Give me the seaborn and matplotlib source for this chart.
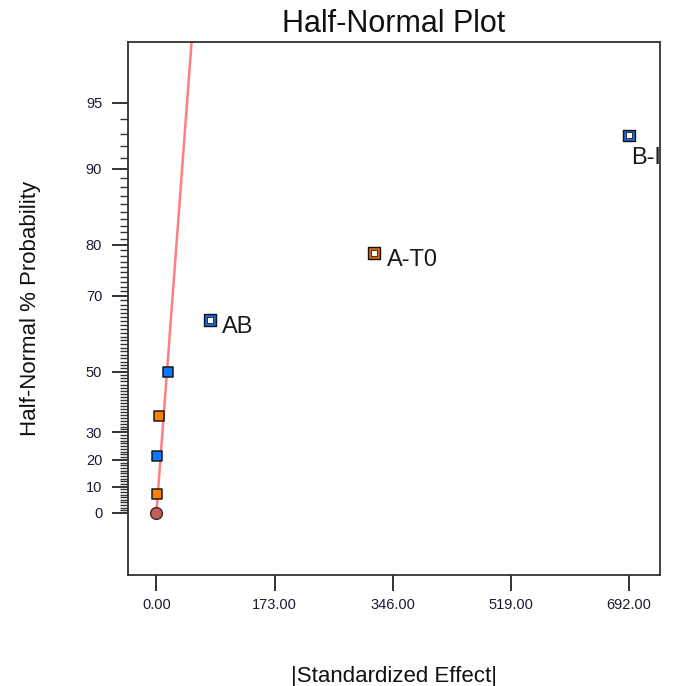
from statistics import NormalDist
import numpy as np
import pandas as pd
import matplotlib
matplotlib.use("Agg")
import matplotlib.pyplot as plt
import seaborn as sns

# -----------------------------
# Data
# -----------------------------
# small effects lying on the fitted line
small_effects = [0.0, 0.5, 1.0, 4.0, 16.5]
small_probs = [0.0, 7.14, 21.43, 35.71, 50.0]
small_kinds = ["Error", "Positive", "Negative", "Positive", "Negative"]

# labelled (significant) effects
term_names = ["AB", "A-T0", "B-I"]
term_effects = [78.4, 319.0, 692.0]
term_probs = [64.29, 78.57, 92.86]
term_kinds = ["Negative", "Positive", "Negative"]

# fitted line through the small effects: effect = fit_slope * z
fit_slope = 22.9

x_ticks = [0.0, 173.0, 346.0, 519.0, 692.0]
y_major = [0, 10, 20, 30, 50, 70, 80, 90, 95]
y_minor = [p for p in range(1, 95) if p not in y_major]

nd = NormalDist()


def half_normal_z(p):
    # percent -> half-normal quantile
    return nd.inv_cdf(0.5 + p / 200.0)


face = {"Error": "#c0605c", "Positive": "#ff7f00", "Negative": "#0a78ff"}
ring = {"Positive": "#e06a00", "Negative": "#1a6ad8"}

small_df = pd.DataFrame({
    "effect": small_effects,
    "z": [half_normal_z(p) for p in small_probs],
    "kind": small_kinds,
})
term_df = pd.DataFrame({
    "term": term_names,
    "effect": term_effects,
    "z": [half_normal_z(p) for p in term_probs],
    "kind": term_kinds,
})

# -----------------------------
# Plot
# -----------------------------
sns.set_style("white")
plt.rcParams["font.family"] = ["Liberation Sans", "DejaVu Sans"]

fig = plt.figure(figsize=(6.73, 6.86), dpi=100)
ax = fig.add_axes([0.190, 0.162, 0.791, 0.777])

z_line = np.array([0.0, 3.0])
ax.plot(fit_slope * z_line, z_line, color="#ff8080", lw=1.8, zorder=2)

sns.scatterplot(data=small_df[small_df["kind"] != "Error"], x="effect", y="z",
                hue="kind", palette=face, marker="s", s=52,
                edgecolor="#1a1a1a", linewidth=1.1, legend=False, ax=ax, zorder=4)
sns.scatterplot(data=small_df[small_df["kind"] == "Error"], x="effect", y="z",
                color=face["Error"], marker="o", s=72,
                edgecolor="#4a2020", linewidth=1.0, legend=False, ax=ax, zorder=4)

# labelled effects: black outline, coloured ring, white core
sns.scatterplot(data=term_df, x="effect", y="z", hue="kind", palette=ring,
                marker="s", s=72, edgecolor="#111111", linewidth=1.0,
                legend=False, ax=ax, zorder=5)
sns.scatterplot(data=term_df, x="effect", y="z", color="white", marker="s",
                s=17, edgecolor="#333333", linewidth=0.7, legend=False, ax=ax, zorder=6)

label_offsets = {"AB": (9, -5), "A-T0": (9, -5), "B-I": (1.5, -16)}
for _, row in term_df.iterrows():
    ax.annotate(row["term"], (row["effect"], row["z"]),
                xytext=label_offsets[row["term"]], textcoords="offset points",
                ha="left", va="center", fontsize=17, color="#1a1a1a",
                annotation_clip=False, clip_on=True)

ax.set_xlim(-41.8, 737.8)
ax.set_ylim(-0.296, 2.25)

ax.set_xticks(x_ticks)
ax.set_xticklabels([f"{v:.2f}" for v in x_ticks])
ax.set_yticks([half_normal_z(p) for p in y_major])
ax.set_yticklabels([str(p) for p in y_major])
ax.set_yticks([half_normal_z(p) for p in y_minor], minor=True)

ax.tick_params(axis="both", which="major", direction="out", length=11.5,
               width=1.4, color="#333333", labelsize=10.5, labelcolor="#1a1a33")
ax.tick_params(axis="x", which="major", pad=5)
ax.tick_params(axis="y", which="major", pad=7)
ax.tick_params(axis="y", which="minor", direction="out", length=6,
               width=1.0, color="#333333", left=True)
ax.xaxis.set_ticks_position("bottom")
ax.yaxis.set_ticks_position("left")

for side in ax.spines.values():
    side.set_color("#333333")
    side.set_linewidth(1.3)

ax.set_title("Half-Normal Plot", fontsize=22, pad=7, color="#111111")
ax.set_xlabel("|Standardized Effect|", fontsize=16, labelpad=39, color="#111111")
ax.set_ylabel("Half-Normal % Probability", fontsize=16, labelpad=32, color="#111111")

fig.savefig("out.png", dpi=100)
plt.close(fig)
